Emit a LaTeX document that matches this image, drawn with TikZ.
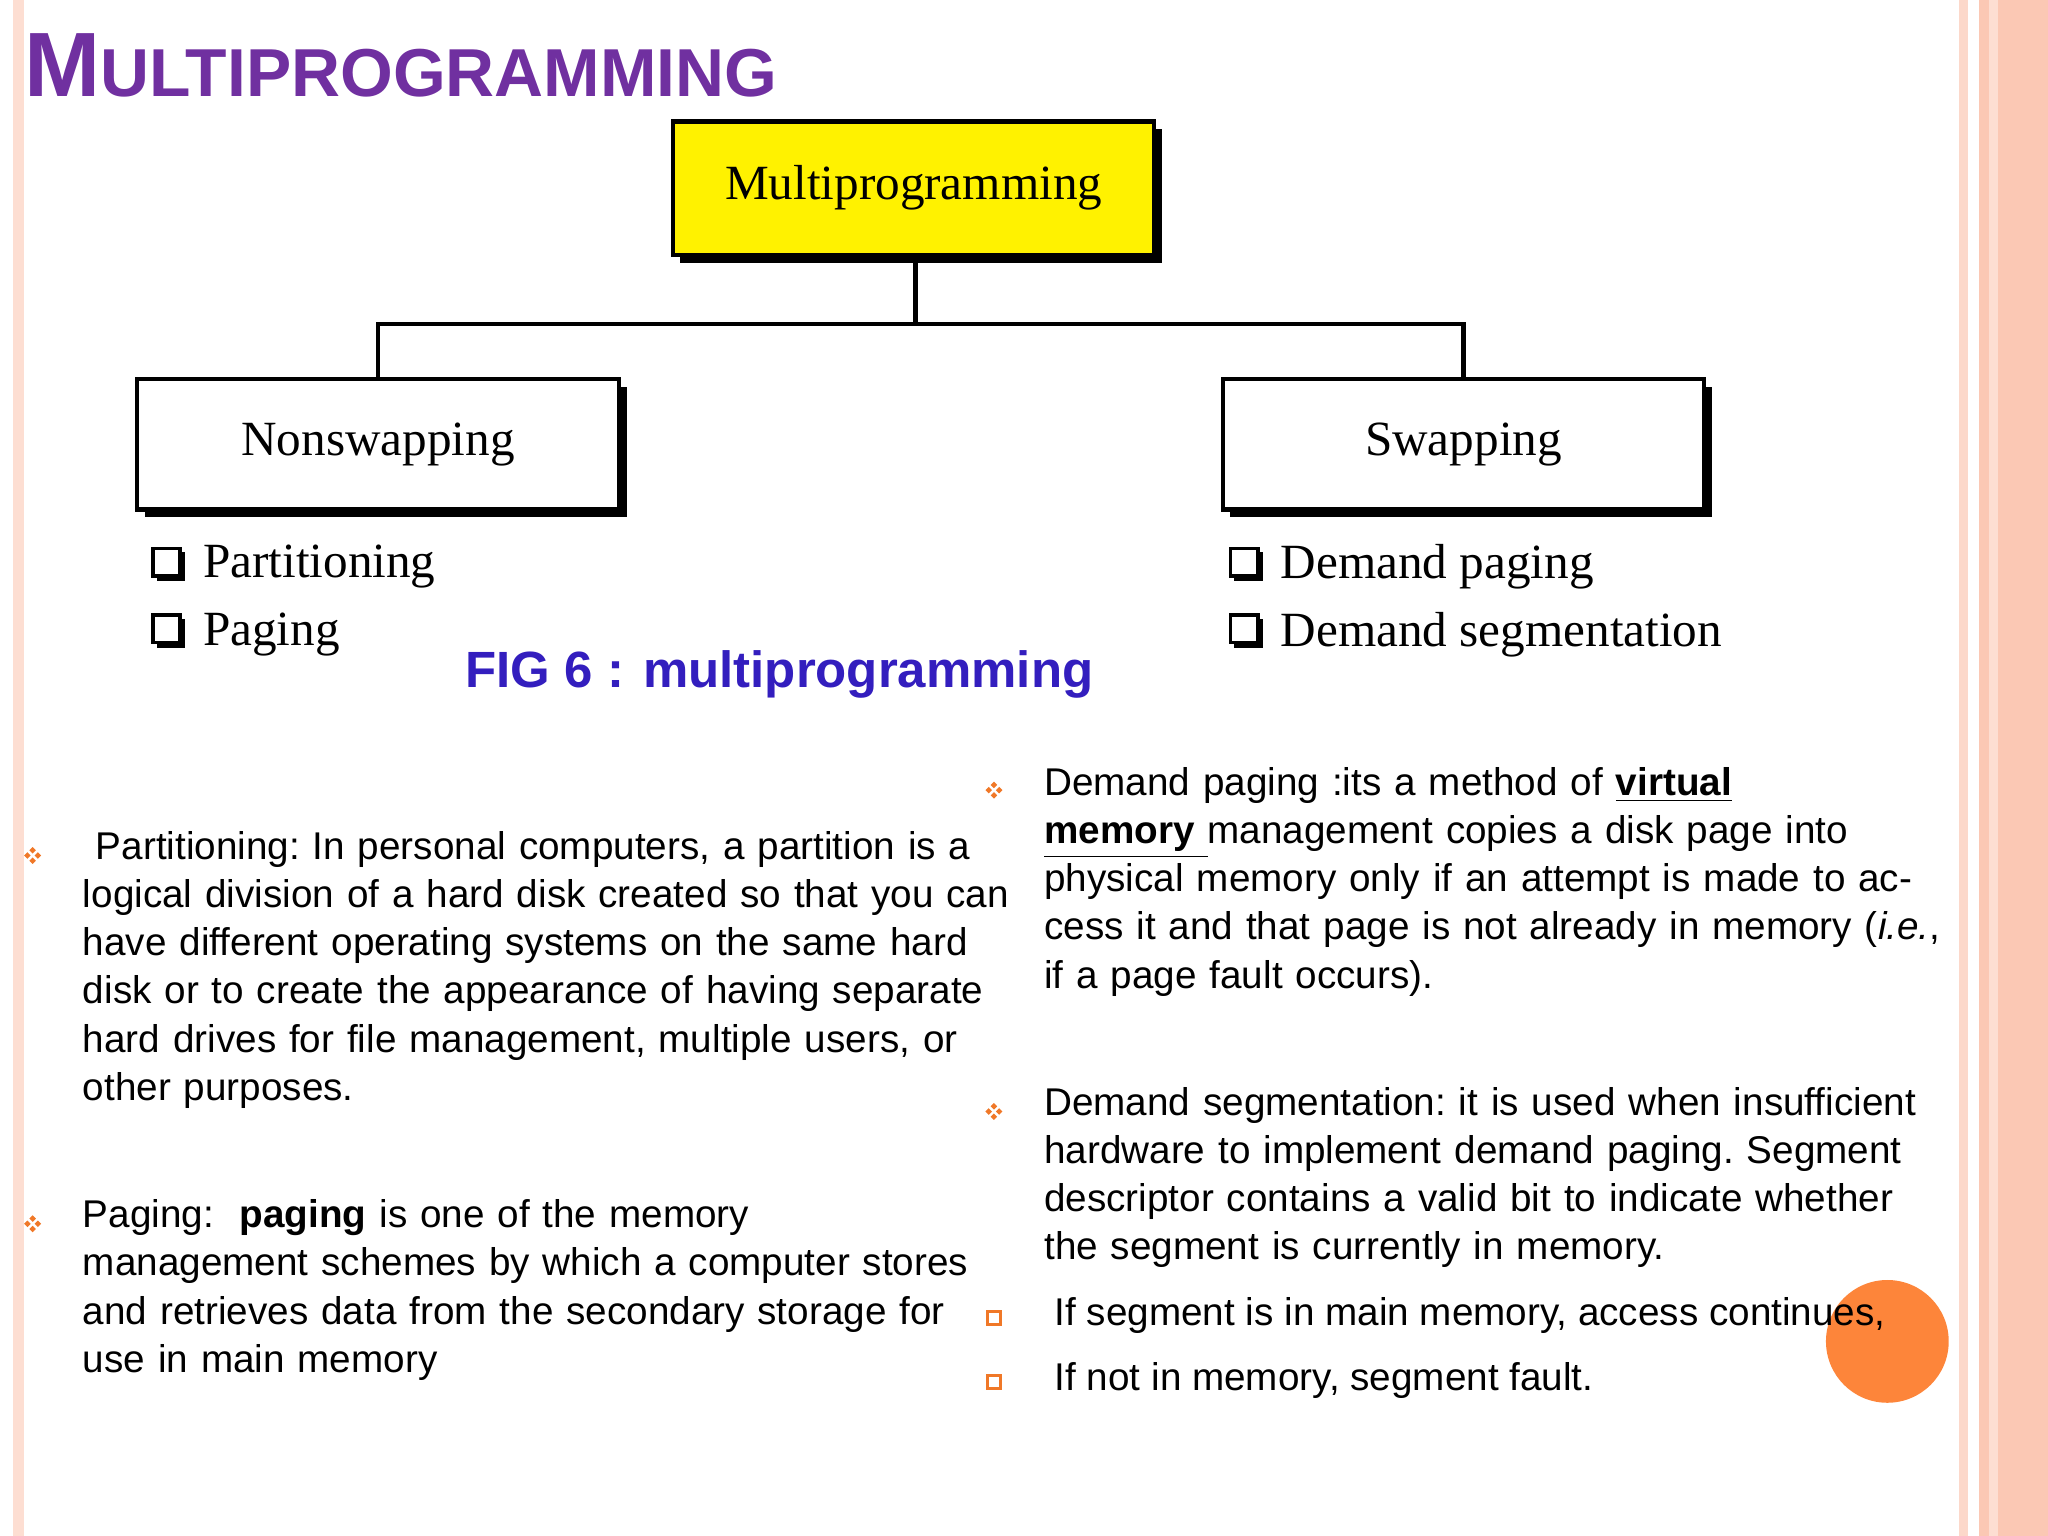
\documentclass[tikz,border=0pt]{standalone}
\usepackage{fontspec}
\setmainfont{Liberation Sans}
\newfontfamily\seriffont{Liberation Serif}
\usetikzlibrary{positioning,calc}
\definecolor{titlepurple}{RGB}{112,48,160}
\definecolor{figblue}{RGB}{51,30,190}
\definecolor{bulletorange}{RGB}{240,120,40}
\definecolor{circleorange}{RGB}{253,133,58}
\definecolor{edgepeach}{RGB}{251,200,180}
\tikzset{
  boxnode/.style={draw,line width=1.2pt,minimum width=137pt,font=\seriffont\fontsize{14}{16}\selectfont},
  para/.style={anchor=north west,inner sep=0pt,align=left,font=\frenchspacing\fontsize{11}{13.7}\selectfont},
  listitem/.style={anchor=west,inner sep=0pt,font=\seriffont\fontsize{14}{16}\selectfont},
}
\newcommand{\diabullet}[1]{%
  \foreach \dx/\dy in {0/-4,0/4,-4/0,4/0}
    \fill[bulletorange] ($(#1)+(\dx,\dy)$) +(0,-2.5) -- +(2.5,0) -- +(0,2.5) -- +(-2.5,0) -- cycle;}
\newcommand{\sqbullet}[1]{%
  \draw[bulletorange,line width=0.8pt] ($(#1)+(-5,-5)$) rectangle +(10,10);}
\newcommand{\checkbox}[1]{%
  \fill ($(#1)+(-9,-9)$) rectangle +(22,22);
  \draw[fill=white,line width=1pt] ($(#1)+(-12,-12)$) rectangle +(21,21);}
\begin{document}
\begin{tikzpicture}[x=0.013061cm,y=-0.013061cm]
    \useasboundingbox (0,0) rectangle (1568,1176);
    % page edges
    \fill[edgepeach!60] (10,0) rectangle (18,1176);
    \fill[edgepeach!70] (1500,0) rectangle (1507,1176);
    \fill[edgepeach] (1515,0) rectangle (1568,1176);
    \fill[edgepeach!60!white] (1523,0) rectangle (1530,1176);
    % title
    \node[anchor=base west,inner sep=0pt,text=titlepurple,font=\bfseries] (title) at (18,74)
      {{\fontsize{26}{28}\selectfont M}{\fontsize{19.3}{22}\selectfont ULTIPROGRAMMING}};
    % boxes
    \fill (521,99) rectangle (890,201);
    \node[boxnode,fill=yellow,minimum height=37.9pt] (multi) at (699.5,144) {Multiprogramming};
    \fill (111,296) rectangle (480,396);
    \node[boxnode,fill=white,minimum height=37.2pt] (nonswap) at (289.5,340) {Nonswapping};
    \fill (942,296) rectangle (1311,396);
    \node[boxnode,fill=white,minimum height=37.2pt] (swap) at (1120.5,340) {Swapping};
    \coordinate (split) at (701,248);
    \draw[line width=1.2pt] (multi.south -| split) -- (split);
    \draw[line width=1.2pt] (nonswap.north) |- (split) -| (swap.north);
    % lists
    \checkbox{129,432} \node[listitem] (part) at (155,434) {Partitioning};
    \checkbox{129,483} \node[listitem] (pag) at (155,486) {Paging};
    \checkbox{954,432} \node[listitem] (dpag) at (980,434) {Demand paging};
    \checkbox{954,483} \node[listitem] (dseg) at (980,486) {Demand segmentation};
    \node[anchor=west,inner sep=0pt,text=figblue,font=\bfseries\fontsize{14.5}{16}\selectfont] (fig) at (356,516) {FIG 6 : multiprogramming};
    % left paragraphs
    \diabullet{25,655}
    \node[para,text width=264pt] (ptext) at (63,636) {\ Partitioning: In personal computers, a partition is a logical division of a hard disk created so that you can have different operating systems on the same hard disk or to create the appearance of having separate hard drives for file management, multiple users, or other purposes.};
    \diabullet{25,937}
    \node[para,text width=264pt] (pgtext) at (63,918) {Paging:\ \ \textbf{paging} is one of the memory\\management schemes by which a computer stores and retrieves data from the secondary storage for use in main memory};
    % right paragraphs
    \diabullet{761,605}
    \node[para,text width=256pt] (dptext) at (799,587) {Demand paging :its a method of \textbf{\underline{virtual}}\\\textbf{\underline{memory }}management copies a disk page into physical memory only if an attempt is made to access it and that page is not already in memory (\textit{i.e.}, if a page fault occurs).};
    \diabullet{761,851}
    \node[para,text width=260pt] (dstext) at (799,832) {Demand segmentation: it is used when insufficient hardware to implement demand paging. Segment descriptor contains a valid bit to indicate whether the segment is currently in memory.};
    \fill[circleorange] (1445,1027) circle (47);
    \sqbullet{761,1009}
    \node[para,anchor=west] (c1) at (807,1007) {If segment is in main memory, access continues,};
    \sqbullet{761,1058}
    \node[para,anchor=west] (c2) at (807,1057) {If not in memory, segment fault.};
\end{tikzpicture}
\end{document}
